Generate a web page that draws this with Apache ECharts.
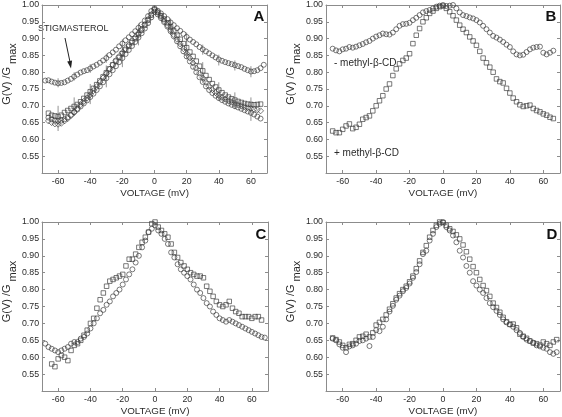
<!DOCTYPE html>
<html><head><meta charset="utf-8">
<script src="https://cdn.jsdelivr.net/npm/echarts@6/dist/echarts.min.js"></script>
<style>html,body{margin:0;padding:0;background:#fff}#c{width:562px;height:417px}</style>
</head><body><div id="c"></div>
<script>
// Voltage grid (mV) shared by all series
const voltages = [-68,-66,-64,-62,-60,-58,-56,-54,-52,-50,-48,-46,-44,-42,-40,-38,-36,-34,-32,-30,-28,-26,-24,-22,-20,-18,-16,-14,-12,-10,-8,-6,-4,-2,0,2,4,6,8,10,12,14,16,18,20,22,24,26,28,30,32,34,36,38,40,42,44,46,48,50,52,54,56,58,60,62,64,66,68];
const xTickValues = [-60,-40,-20,0,20,40,60];

// Panel A
const aStigmasterol = [0.775,0.776,0.772,0.769,0.767,0.768,0.770,0.775,0.780,0.787,0.793,0.799,0.803,0.806,0.811,0.817,0.822,0.828,0.835,0.842,0.851,0.859,0.867,0.877,0.885,0.895,0.904,0.913,0.922,0.932,0.942,0.954,0.967,0.982,0.990,0.983,0.975,0.967,0.958,0.948,0.940,0.931,0.923,0.914,0.905,0.897,0.890,0.883,0.875,0.868,0.862,0.856,0.850,0.844,0.838,0.834,0.830,0.827,0.824,0.821,0.818,0.815,0.810,0.806,0.802,0.803,0.806,0.812,0.822];
const aSquares = [null,0.678,0.672,0.670,0.668,0.672,0.680,0.686,0.692,0.698,0.704,0.712,0.722,0.732,0.742,0.752,0.763,0.774,0.786,0.798,0.810,0.822,0.833,0.844,0.855,0.866,0.877,0.888,0.900,0.912,0.925,0.940,0.955,0.970,0.985,0.978,0.968,0.958,0.947,0.935,0.923,0.910,0.898,0.885,0.873,0.860,0.847,0.833,0.818,0.804,0.790,0.778,0.766,0.756,0.747,0.739,0.732,0.726,0.721,0.717,0.713,0.710,0.707,0.705,0.704,0.703,0.704,0.705,null];
const aDiamonds = [null,0.655,0.650,0.646,0.645,0.648,0.655,0.662,0.671,0.681,0.692,0.703,0.713,0.723,0.733,0.745,0.757,0.770,0.783,0.796,0.809,0.822,0.835,0.847,0.859,0.870,0.881,0.892,0.904,0.916,0.928,0.942,0.957,0.972,0.988,0.978,0.966,0.953,0.940,0.926,0.912,0.898,0.884,0.870,0.856,0.842,0.827,0.812,0.797,0.783,0.770,0.758,0.748,0.739,0.731,0.725,0.720,0.715,0.711,0.707,0.703,0.700,0.697,0.694,0.692,0.690,0.688,0.685,null];
const aCircles = [null,0.665,0.660,0.656,0.655,0.656,0.660,0.666,0.673,0.681,0.689,0.698,0.707,0.716,0.726,0.736,0.747,0.758,0.770,0.782,0.794,0.806,0.818,0.830,0.842,0.854,0.866,0.878,0.890,0.903,0.916,0.930,0.946,0.963,0.980,0.972,0.961,0.949,0.936,0.922,0.907,0.892,0.877,0.862,0.847,0.832,0.816,0.800,0.785,0.771,0.758,0.747,0.738,0.730,0.723,0.717,0.712,0.707,0.703,0.699,0.695,0.691,0.687,0.683,0.679,0.674,0.668,0.662,null];
// error bars: [voltage, low, high]
const aStigErr = [[-60,0.755,0.782],[-50,0.775,0.800],[-40,0.798,0.824],[-30,0.828,0.855],[-20,0.872,0.898],[-10,0.920,0.945],[10,0.935,0.960],[20,0.890,0.918],[30,0.852,0.882],[40,0.820,0.852],[50,0.805,0.835],[60,0.785,0.818]];
const aLowErr = [[-60,0.625,0.700],[-50,0.670,0.725],[-40,0.705,0.765],[-30,0.755,0.820],[-20,0.815,0.875],[-10,0.880,0.930],[10,0.910,0.955],[20,0.840,0.900],[30,0.770,0.830],[40,0.715,0.770],[50,0.690,0.740],[60,0.655,0.725]];

// Panel B
const bMinusCD = [null,0.870,0.865,0.862,0.868,0.870,0.875,0.873,0.876,0.880,0.884,0.889,0.893,0.900,0.906,0.910,0.915,0.913,0.912,0.918,0.928,0.938,0.943,0.944,0.947,0.955,0.962,0.970,0.978,0.982,0.985,0.990,0.995,0.998,1.000,0.997,0.998,1.000,0.990,0.978,0.970,0.967,0.963,0.960,0.955,0.948,0.938,0.928,0.918,0.908,0.903,0.897,0.890,0.882,0.875,0.862,0.853,0.850,0.852,0.860,0.868,0.873,0.875,0.876,0.858,0.853,0.858,0.864,null];
const bPlusCD = [null,0.625,0.620,0.620,0.630,0.640,0.646,0.632,0.636,0.645,0.660,0.665,0.670,0.685,0.700,0.715,0.730,0.750,0.765,0.790,0.810,0.825,0.835,0.842,0.855,0.885,0.910,0.930,0.950,0.962,0.975,0.982,0.990,0.995,0.997,0.990,0.980,0.968,0.955,0.940,0.928,0.918,0.905,0.893,0.880,0.862,0.842,0.828,0.815,0.800,0.780,0.772,0.768,0.752,0.738,0.723,0.712,0.703,0.698,0.700,0.702,0.692,0.686,0.682,0.676,0.672,0.666,0.662,null];

// Panel C
const cCircles = [0.640,0.630,0.625,0.620,0.615,0.620,0.625,0.630,0.640,0.645,0.645,0.655,0.660,0.670,0.685,0.700,0.715,0.730,0.740,0.755,0.765,0.780,0.790,0.800,0.815,0.830,0.845,0.860,0.880,0.900,0.925,0.945,0.970,0.980,0.990,0.975,0.965,0.950,0.935,0.910,0.895,0.875,0.860,0.850,0.840,0.830,0.815,0.800,0.790,0.775,0.760,0.750,0.735,0.725,0.715,0.710,0.705,0.710,0.705,0.700,0.695,0.690,0.685,0.680,0.675,0.670,0.665,0.660,0.658];
const cSquares = [null,null,0.580,0.572,0.595,0.605,0.600,0.590,0.620,0.635,0.640,0.650,0.665,0.680,0.700,0.715,0.745,0.770,0.790,0.810,0.825,0.830,0.835,0.840,0.845,0.870,0.890,0.890,0.905,0.925,0.940,0.955,0.970,0.995,1.000,0.985,0.975,0.965,0.955,0.935,0.910,0.895,0.880,0.870,0.860,0.850,0.845,0.840,0.840,0.835,0.810,0.795,0.780,0.765,0.755,0.750,0.755,0.765,0.745,0.735,0.730,0.720,0.720,0.720,0.715,0.720,0.720,0.710,null];

// Panel D
const dCircles = [null,0.655,0.650,0.638,0.628,0.615,0.632,0.635,0.640,0.648,0.650,0.655,0.633,0.660,0.680,0.677,0.690,0.712,0.735,0.752,0.770,0.782,0.795,0.805,0.818,0.835,0.852,0.875,0.905,0.915,0.945,0.965,0.985,0.995,1.000,0.985,0.975,0.960,0.940,0.915,0.895,0.870,0.850,0.825,0.812,0.800,0.790,0.775,0.760,0.748,0.737,0.725,0.712,0.703,0.697,0.690,0.680,0.672,0.660,0.652,0.648,0.643,0.635,0.632,0.628,0.625,0.615,0.610,0.615];
const dSquares = [null,0.657,0.652,0.645,0.635,0.628,0.638,0.640,0.650,0.660,0.662,0.668,0.660,0.672,0.695,0.703,0.712,0.725,0.742,0.758,0.775,0.788,0.800,0.810,0.823,0.840,0.862,0.885,0.910,0.930,0.955,0.975,0.990,1.000,0.998,0.990,0.980,0.972,0.962,0.950,0.932,0.912,0.890,0.868,0.850,0.830,0.812,0.797,0.780,0.760,0.747,0.733,0.718,0.705,0.697,0.698,0.687,0.668,0.662,0.656,0.648,0.642,0.640,0.636,0.645,0.640,0.635,0.645,0.652];

const FONT = '"Liberation Sans", Arial, sans-serif';
const AXC = '#8c8c8c';
const TXT = '#2a2a2a';
const MK = '#3a3a3a';

function pairs(vals){ const out=[]; vals.forEach((v,i)=>{ if(v!==null) out.push([voltages[i], v]); }); return out; }

const grids = [
  {left:33, top:5, width:234, height:168},
  {left:326, top:5, width:234, height:168},
  {left:35, top:222, width:233, height:169},
  {left:326, top:222, width:234, height:169}
];

const xAxes = [], yAxes = [];
grids.forEach((g, gi) => {
  [true,false].forEach(main => {
    xAxes.push({
      type:'value', gridIndex:gi, position: main?'bottom':'top', min:-70, max:70,
      axisLine:{show:true, onZero:false, lineStyle:{color:AXC, width:1}},
      axisTick:{show:true, inside:true, length:3, customValues:xTickValues, lineStyle:{color:AXC}},
      axisLabel:{show:main, customValues:xTickValues, color:TXT, fontSize:8.8, fontFamily:FONT, margin:4},
      splitLine:{show:false},
      name: main ? 'VOLTAGE (mV)' : '', nameLocation:'middle', nameGap:15,
      nameTextStyle:{color:TXT, fontSize:9.8, fontFamily:FONT}
    });
    yAxes.push({
      type:'value', gridIndex:gi, position: main?'left':'right', min:0.5, max:1.0, interval:0.05,
      axisLine:{show:true, onZero:false, lineStyle:{color:AXC, width:1}},
      axisTick:{show:true, inside:true, length:3, lineStyle:{color:AXC}},
      axisLabel:{show:main, color:TXT, fontSize:8.8, fontFamily:FONT, margin:3,
        formatter: v => (v < 0.51 ? '' : v.toFixed(2))},
      splitLine:{show:false},
      name: main ? '{a|G(V) /G}{b|max}' : '', nameLocation:'middle', nameGap:17, nameRotate:90,
      nameTextStyle:{color:TXT, fontFamily:FONT, rich:{
        a:{fontSize:11, color:TXT, fontFamily:FONT, lineHeight:17, verticalAlign:'top', padding:[0,0,0,30]},
        b:{fontSize:11, color:TXT, fontFamily:FONT, lineHeight:17, verticalAlign:'bottom', padding:[0,0,0,3]}
      }}
    });
  });
});

function scat(vals, gi, symbol, size){
  return {type:'scatter', xAxisIndex:gi*2, yAxisIndex:gi*2, data:pairs(vals), symbol, symbolSize:size,
    itemStyle:{color:'rgba(255,255,255,0)', borderColor:MK, borderWidth:0.85}, silent:true, z:3};
}
function errs(data, gi){
  return {type:'custom', xAxisIndex:gi*2, yAxisIndex:gi*2, data, silent:true, z:2,
    encode:{x:0, y:[1,2]},
    renderItem:(p, api) => {
      const a = api.coord([api.value(0), api.value(1)]);
      const b = api.coord([api.value(0), api.value(2)]);
      return {type:'line', shape:{x1:a[0], y1:a[1], x2:b[0], y2:b[1]}, style:{stroke:'#777', lineWidth:0.8}};
    }};
}

const series = [
  errs(aStigErr, 0), errs(aLowErr, 0),
  scat(aStigmasterol, 0, 'circle', 5),
  scat(aSquares, 0, 'rect', 4.5),
  scat(aDiamonds, 0, 'diamond', 6),
  scat(aCircles, 0, 'circle', 5),
  scat(bMinusCD, 1, 'circle', 5),
  scat(bPlusCD, 1, 'rect', 4.5),
  scat(cCircles, 2, 'circle', 5),
  scat(cSquares, 2, 'rect', 4.5),
  scat(dCircles, 3, 'circle', 5),
  scat(dSquares, 3, 'rect', 4.5)
];

const letter = (t, x, y) => ({type:'text', x, y, style:{text:t, fill:'#111', font:'bold 15px ' + FONT, textAlign:'center', textVerticalAlign:'middle'}});
const note = (t, x, y, fs) => ({type:'text', x, y, style:{text:t, fill:TXT, font:fs + 'px ' + FONT, textVerticalAlign:'middle'}});

const graphic = [
  letter('A', 259, 17), letter('B', 551, 17), letter('C', 261, 235), letter('D', 552, 235),
  note('STIGMASTEROL', 38, 29, 9),
  {type:'line', shape:{x1:65, y1:38, x2:70, y2:62}, style:{stroke:'#222', lineWidth:1}},
  {type:'polygon', shape:{points:[[72.1,60.6],[67.2,61.6],[71,68.5]]}, style:{fill:'#222'}},
  note('- methyl-\u03b2-CD', 334, 63, 10),
  note('+ methyl-\u03b2-CD', 334, 153, 10)
];

const chart = echarts.init(document.getElementById('c'), null, {renderer:'canvas'});
chart.setOption({
  animation:false, backgroundColor:'#fff',
  grid: grids, xAxis: xAxes, yAxis: yAxes, series, graphic
});
</script>
</body></html>
